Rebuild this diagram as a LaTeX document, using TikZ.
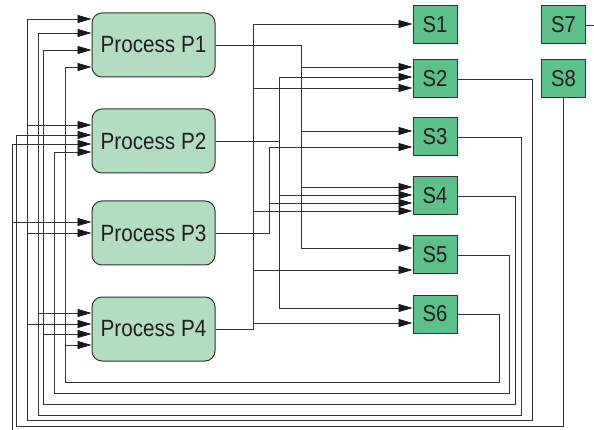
\documentclass[tikz,border=0pt]{standalone}
\usepackage{fontspec}
\newfontfamily\lab{Liberation Sans}[FakeStretch=0.88]
\usetikzlibrary{arrows.meta}
\definecolor{pfill}{HTML}{B3DDC0}
\definecolor{sfill}{HTML}{5DBF89}
\definecolor{wirec}{HTML}{333333}
\begin{document}
\begin{tikzpicture}[x=1pt,y=-1pt,
  proc/.style={draw=wirec, line width=1pt, fill=pfill, rounded corners=10pt,
    minimum width=123pt, minimum height=64pt, inner sep=0pt,
    font=\lab\fontsize{23.5}{23.5}\selectfont, text=black!88},
  sbox/.style={draw=wirec, line width=1pt, fill=sfill,
    minimum width=44pt, minimum height=38pt, inner sep=0pt,
    font=\lab\fontsize{23}{23}\selectfont, text=black!88},
  wire/.style={draw=wirec, line width=0.75pt},
  arr/.style={wire, -{Triangle[length=14pt,width=8pt,fill=black!90,color=black!90]}}]
\useasboundingbox (0,0) rectangle (594,430);

% process nodes
\node[proc] (P1) at (153.5,45) {Process P1};
\node[proc] (P2) at (153.5,141) {Process P2};
\node[proc] (P3) at (153.5,233) {Process P3};
\node[proc] (P4) at (153.5,329) {Process P4};

% S nodes
\node[sbox] (S1) at (435,25) {S1};
\node[sbox] (S2) at (435,79) {S2};
\node[sbox] (S3) at (435,137) {S3};
\node[sbox] (S4) at (435,196) {S4};
\node[sbox] (S5) at (435,255) {S5};
\node[sbox] (S6) at (435,314) {S6};
\node[sbox] (S7) at (563.5,25) {S7};
\node[sbox] (S8) at (563.5,79) {S8};

% ---- process outputs ----
% P1 -> S2, S3, S4, S5
\draw[arr] (P1.east) -| (301,248) -- (S5.west |- 0,248);
\draw[arr] (301,67) -- (S2.west |- 0,67);
\draw[arr] (301,131) -- (S3.west |- 0,131);
\draw[arr] (301,187) -- (S4.west |- 0,187);

% P2 -> S2, S4, S6
\coordinate (P2j) at (279,141);
\draw[wire] (P2.east) -- (P2j);
\draw[arr] (P2j) |- (S2.west |- 0,77);
\draw[arr] (P2j) |- (S6.west |- 0,308);
\draw[arr] (279,195) -- (S4.west |- 0,195);

% P3 -> S3, S4
\draw[arr] (P3.east) -| (269,147) -- (S3.west |- 0,147);
\draw[arr] (269,203) -- (S4.west |- 0,203);

% P4 -> S1, S2, S4, S5, S6
\draw[arr] (P4.east) -| (253,24) -- (S1.west |- 0,24);
\draw[arr] (253,88) -- (S2.west |- 0,88);
\draw[arr] (253,211) -- (S4.west |- 0,211);
\draw[arr] (253,270) -- (S5.west |- 0,270);
\draw[arr] (253,323) -- (S6.west |- 0,323);

% ---- feedback ----
% S2 -> P1, P2, P3, P4
\draw[arr] (S2.east) -| (532,420) -| (27,19) -- (P1.west |- 0,19);
\draw[arr] (27,125) -- (P2.west |- 0,125);
\draw[arr] (27,233) -- (P3.west |- 0,233);
\draw[arr] (27,324) -- (P4.west |- 0,324);

% S3 -> P1, P4
\draw[arr] (S3.east) -| (521,415) -| (38,33) -- (P1.west |- 0,33);
\draw[arr] (38,313) -- (P4.west |- 0,313);

% S4 -> P1, P4
\draw[arr] (S4.east) -| (515,404) -| (43,50) -- (P1.west |- 0,50);
\draw[arr] (43,334) -- (P4.west |- 0,334);

% S5 -> P2
\draw[arr] (S5.east) -| (509,393) -| (54,152) -- (P2.west |- 0,152);

% S6 -> P1, P4
\draw[arr] (S6.east) -| (499,382) -| (65,67) -- (P1.west |- 0,67);
\draw[arr] (65,345) -- (P4.west |- 0,345);

% S8 -> P2
\draw[arr] (S8.south) |- (16,426) -- (16,135) -- (P2.west |- 0,135);

% S7 feedback (leaves the picture) -> P2, P3
\coordinate (S7out) at (594,25);
\coordinate (S7in) at (12,430);
\draw[wire] (S7.east) -- (S7out);
\draw[arr] (S7in) -- (12,144) -- (P2.west |- 0,144);
\draw[arr] (12,222) -- (P3.west |- 0,222);
\end{tikzpicture}
\end{document}
